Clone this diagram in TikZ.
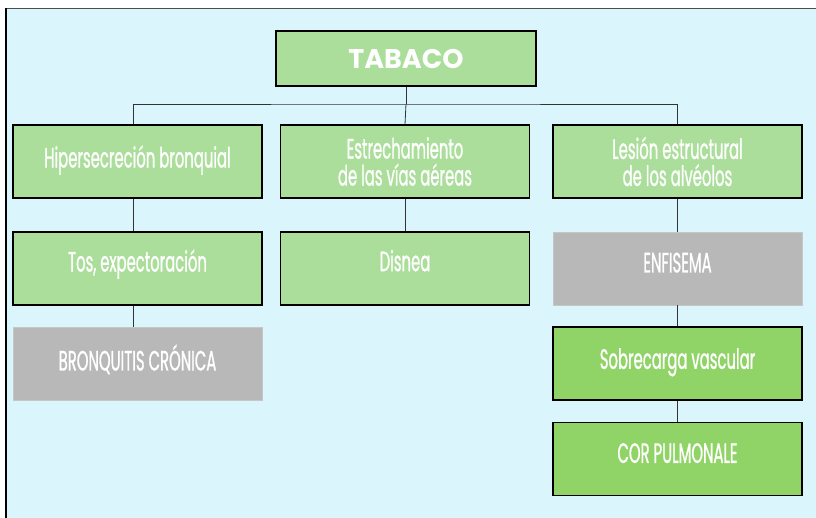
\documentclass[tikz,border=0pt]{standalone}
\usepackage{fontspec}
\setmainfont{Poppins}[FakeStretch=0.53, FakeBold=0.8]
\newfontfamily\titlefont{Poppins}[BoldFont={* Bold}]

\definecolor{bgblue}{RGB}{218,246,252}
\definecolor{lgreen}{RGB}{170,222,154}
\definecolor{dgreen}{RGB}{144,212,104}
\definecolor{boxgray}{RGB}{184,184,184}

\tikzset{
    effect/.style={draw=black, line width=1.4pt, fill=lgreen, text=white,
        minimum width=249, minimum height=73, inner sep=0pt, align=center,
        font=\fontsize{28}{27}\selectfont},
    illness/.style={effect, draw=boxgray!80!white, line width=0.6pt, fill=boxgray},
    strong/.style={effect, fill=dgreen},
    link/.style={line width=0.8pt, black!80}
}

\begin{document}
\begin{tikzpicture}[x=1pt, y=-1pt]

    %% Frame
    \useasboundingbox (0,0) rectangle (816,517);
    \fill[bgblue] (6,8) rectangle (830,530);
    \draw[line width=1pt, black!70] (6,530) -- (6,8) -- (830,8);
    \draw[line width=1.6pt] (6,530) -- (6,8);

    %% Top
    \node[effect, minimum width=260, minimum height=55,
        font=\titlefont\bfseries\fontsize{27}{30}\selectfont] (tabaco) at (406,58.5) {TABACO};

    %% First row
    \node[effect, text depth=10pt] (hiper) at (137.5,161.5) {Hipersecreción bronquial};
    \node[effect] (estrech) at (405,161.5) {Estrechamiento\\de las vías aéreas};
    \node[effect] (lesion) at (677.5,161.5) {Lesión estructural\\de los alvéolos};

    % Bus
    \coordinate (bus) at (406,104);
    \draw[link] (tabaco.south) -- (bus);
    \draw[link] ([xshift=-4]hiper.north) |- (bus) -| (lesion.north);
    \draw[link] (bus) -- (estrech.north);

    %% Second row
    \node[effect, text depth=16pt] (tos) at (137.5,268.5) {Tos, expectoración};
    \node[effect, text depth=16pt] (disnea) at (405,268.5) {Disnea};
    \node[illness, text depth=12pt] (enfisema) at (677.5,268.5) {ENFISEMA};
    \draw[link] ([xshift=-4]hiper.south) -- ([xshift=-4]tos.north);
    \draw[link] (estrech) -- (disnea);
    \draw[link] (lesion) -- (enfisema);

    %% Third row
    \node[illness, text depth=12pt] (bronq) at (137.5,363.5) {BRONQUITIS CRÓNICA};
    \node[strong, text depth=10pt] (sobrecarga) at (677.5,363.5) {Sobrecarga vascular};
    \draw[link] ([xshift=-4]tos.south) -- ([xshift=-4]bronq.north);
    \draw[link] (enfisema) -- (sobrecarga);

    % Bottom
    \node[strong, text depth=12pt] (cor) at (677.5,459) {COR PULMONALE};
    \draw[link] (sobrecarga) -- (cor);

\end{tikzpicture}
\end{document}
